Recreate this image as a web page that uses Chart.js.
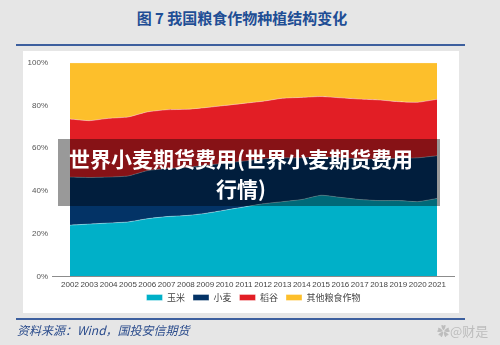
<!DOCTYPE html>
<html>
<head>
<meta charset="utf-8">
<script src="https://cdn.jsdelivr.net/npm/chart.js@4"></script>
<style>
  html, body { margin: 0; padding: 0; }
  body { width: 500px; height: 345px; background: #e6e6e6; position: relative; overflow: hidden;
         font-family: "Noto Sans CJK SC", "Noto Sans", sans-serif; }
  #title { position: absolute; left: 0; width: 484px; top: 7px; text-align: center; font-size: 15px;
           font-weight: bold; color: #1f4e95; }
  .rule { position: absolute; left: 16px; width: 449px; height: 2px; background: #3d5f9e; }
  #panel { position: absolute; left: 23px; top: 51px; width: 436px; height: 262px; background: #fff; }
  #wrap { position: absolute; left: 23px; top: 36px; width: 436px; height: 285px; }
  #source { position: absolute; left: 17px; top: 321px; font-size: 12px; font-style: italic; color: #2b4c8c; }
  #mark { position: absolute; left: 437px; top: 321px; font-size: 13px; color: #bdbdbd; }
  #banner { position: absolute; left: 58px; top: 139px; width: 382px; height: 67px; background: rgba(0,0,0,0.4);
            color: #fff; font-weight: bold; font-size: 21px; line-height: 30px; text-align: center;
            box-sizing: border-box; padding: 4px 16px 0 0; }
</style>
</head>
<body>
<div id="title">图 7 我国粮食作物种植结构变化</div>
<div class="rule" style="top:44px"></div>
<div id="panel"></div>
<div id="wrap"><canvas id="chart" width="436" height="285"></canvas></div>
<div class="rule" style="top:318px"></div>
<div id="source">资料来源：Wind，国投安信期货</div>
<div id="mark">✿@财是</div>
<div id="banner">世界小麦期货费用(世界小麦期货费用<br>行情)</div>
<script>
// 年份
const years = ['2002','2003','2004','2005','2006','2007','2008','2009','2010','2011',
               '2012','2013','2014','2015','2016','2017','2018','2019','2020','2021'];

// 各作物占比 (%)
const corn  = [24.0, 24.5, 25.0, 25.5, 27.0, 28.0, 28.5, 29.5, 31.0, 32.5, 34.0, 35.0, 36.0, 38.0, 37.0, 36.0, 35.5, 35.5, 35.0, 36.5];
const wheat = [22.5, 21.8, 21.5, 21.5, 22.5, 22.5, 22.5, 22.5, 22.0, 21.5, 21.0, 20.5, 19.5, 18.0, 18.5, 19.0, 19.5, 19.8, 20.5, 20.0];
const rice  = [27.2, 26.6, 27.5, 27.6, 27.5, 27.5, 27.2, 27.0, 27.0, 27.0, 27.0, 27.9, 28.3, 28.2, 28.1, 28.0, 27.6, 26.5, 26.0, 26.4];
const other = [26.3, 27.1, 26.0, 25.4, 23.0, 22.0, 21.8, 21.0, 20.0, 19.0, 18.0, 16.6, 16.2, 15.8, 16.4, 17.0, 17.4, 18.2, 18.5, 17.1];

const yTicks = [0, 20, 40, 60, 80, 100];

const numFont = "'Liberation Sans Narrow', 'Liberation Sans', sans-serif";

// 图例居中于绘图区、往上靠；底部坐标轴线比绘图区更宽
const tweaks = {
  id: 'tweaks',
  afterLayout(chart) {
    const lg = chart.legend;
    lg.left = chart.chartArea.left;
    lg.right = chart.chartArea.right;
    lg.width = lg.right - lg.left;
    lg.top -= 9;
    lg.bottom -= 9;
  },
  afterDatasetsDraw(chart) {
    const { ctx, chartArea } = chart;
    const y = chart.scales.y.getPixelForValue(0);
    ctx.save();
    ctx.strokeStyle = '#8c8c8c';
    ctx.lineWidth = 1;
    ctx.beginPath();
    ctx.moveTo(chartArea.left - 18, Math.round(y) + 0.5);
    ctx.lineTo(chartArea.right + 18, Math.round(y) + 0.5);
    ctx.stroke();
    ctx.restore();
  }
};

function area(label, data, color, fill) {
  return {
    label: label,
    data: data,
    backgroundColor: color,
    borderColor: 'rgba(255,255,255,0.35)',
    borderWidth: 1,
    pointRadius: 0,
    tension: 0.15,
    fill: fill
  };
}

new Chart(document.getElementById('chart'), {
  type: 'line',
  data: {
    labels: years,
    datasets: [
      area('玉米', corn, '#00b0c8', 'origin'),
      area('小麦', wheat, '#033366', '-1'),
      area('稻谷', rice, '#e21e25', '-1'),
      area('其他粮食作物', other, '#fdbf2b', '-1')
    ]
  },
  options: {
    responsive: false,
    animation: false,
    layout: { padding: { left: 0, right: 22, top: 0, bottom: 0 } },
    plugins: {
      tooltip: { enabled: false },
      legend: {
        position: 'bottom',
        labels: {
          boxWidth: 16,
          boxHeight: 6,
          padding: 8,
          color: '#444',
          font: { size: 9, family: "'Noto Sans CJK SC', sans-serif" }
        }
      }
    },
    scales: {
      x: {
        offset: false,
        grid: { display: false, drawTicks: false },
        border: { display: false },
        ticks: { color: '#444', font: { size: 8, family: numFont }, maxRotation: 0, autoSkip: false, padding: 4 }
      },
      y: {
        stacked: true,
        min: 0,
        max: 100,
        grid: { display: false, drawTicks: false },
        border: { display: false },
        afterBuildTicks(s) { s.ticks = yTicks.map(v => ({ value: v })); },
        ticks: { color: '#555', font: { size: 8, family: numFont }, padding: 22, callback: v => v + '%' },
        afterFit(s) { s.width = 47; }
      }
    }
  },
  plugins: [tweaks]
});
</script>
</body>
</html>
